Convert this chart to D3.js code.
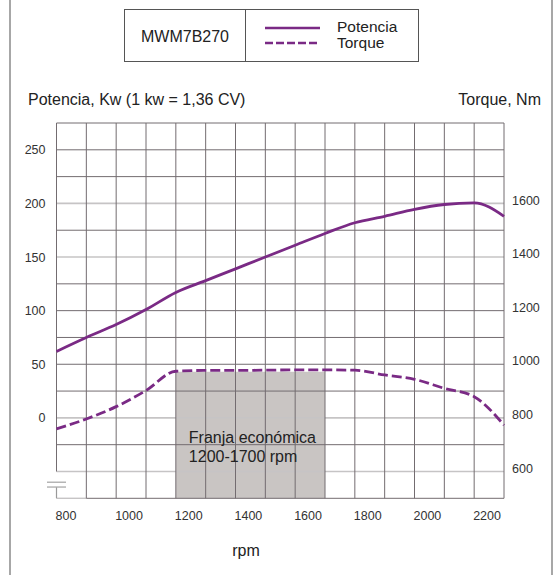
<!DOCTYPE html>
<html>
<head>
<meta charset="utf-8">
<script src="https://cdn.jsdelivr.net/npm/d3@7/dist/d3.min.js"></script>
<style>
  html, body { margin: 0; padding: 0; background: #fff; }
  svg { display: block; font-family: "Liberation Sans", Arial, sans-serif; }
</style>
</head>
<body>
<svg id="chart" width="559" height="575"></svg>
<script>
// ---- data ----
const rpm = [800, 900, 1000, 1100, 1200, 1300, 1400, 1500, 1600, 1700, 1800, 1900, 2000, 2100, 2200, 2300];
const potenciaKw = [62, 75, 87, 101, 117, 128, 139, 150, 161, 172, 182, 188, 194.5, 199, 200.5, 188];
const torqueNm = [759, 796, 842, 902, 974, 977, 977, 978, 979, 979, 978, 960, 944, 910, 879, 773];
const xTicks = [800, 1000, 1200, 1400, 1600, 1800, 2000, 2200];
const leftTicks = [0, 50, 100, 150, 200, 250];
const rightTicks = [600, 800, 1000, 1200, 1400, 1600];
const lightTorqueLines = [600, 800, 1400, 1600];
const bandRpm = [1200, 1700];
const bandTopNm = 972;
const modelName = "MWM7B270";
const seriesNames = ["Potencia", "Torque"];
const bandText = ["Franja económica", "1200-1700 rpm"];

// ---- layout ----
const svg = d3.select("#chart");
const purple = "#7a2a85";
const gridDark = "#736c70";
const gridLight = "#c6c4c5";
const L = 56.5, R = 504, T = 123, B = 498.3;

const x = d3.scaleLinear().domain([800, 2300]).range([L, R]);
const yP = d3.scaleLinear().domain([-75, 275]).range([B, T]);
const yT = d3.scaleLinear().domain([500, 1900]).range([B, T]);

// outer frame sides
svg.append("line").attr("x1", 10).attr("x2", 10).attr("y1", 0).attr("y2", 575)
  .attr("stroke", "#8a8a8a").attr("stroke-width", 1.5);
svg.append("line").attr("x1", 552).attr("x2", 552).attr("y1", 0).attr("y2", 575)
  .attr("stroke", "#8a8a8a").attr("stroke-width", 1.5);

// legend box
const lg = svg.append("g");
lg.append("rect").attr("x", 124.5).attr("y", 9.5).attr("width", 294).attr("height", 52)
  .attr("fill", "#fff").attr("stroke", "#555").attr("stroke-width", 1);
lg.append("line").attr("x1", 245.5).attr("x2", 245.5).attr("y1", 9.5).attr("y2", 61.5)
  .attr("stroke", "#555");
lg.append("text").attr("x", 185).attr("y", 42).attr("text-anchor", "middle")
  .attr("font-size", 16).attr("fill", "#222").text(modelName);
lg.append("line").attr("x1", 265).attr("x2", 320).attr("y1", 28).attr("y2", 28)
  .attr("stroke", purple).attr("stroke-width", 2.5);
lg.append("line").attr("x1", 265).attr("x2", 320).attr("y1", 43).attr("y2", 43)
  .attr("stroke", purple).attr("stroke-width", 2.5).attr("stroke-dasharray", "8,3");
lg.append("text").attr("x", 337).attr("y", 32).attr("font-size", 15.5).attr("fill", "#222").text(seriesNames[0]);
lg.append("text").attr("x", 337).attr("y", 47.5).attr("font-size", 15.5).attr("fill", "#222").text(seriesNames[1]);

// axis titles
svg.append("text").attr("x", 28).attr("y", 105).attr("font-size", 16).attr("fill", "#222")
  .text("Potencia, Kw (1 kw = 1,36 CV)");
svg.append("text").attr("x", 541).attr("y", 105).attr("text-anchor", "end").attr("font-size", 16).attr("fill", "#222")
  .text("Torque, Nm");

// economic band
svg.append("rect")
  .attr("x", x(bandRpm[0])).attr("y", yT(bandTopNm))
  .attr("width", x(bandRpm[1]) - x(bandRpm[0])).attr("height", B - yT(bandTopNm))
  .attr("fill", "#c9c5c3");

// grid: horizontal lines every 25 kW
const hVals = d3.range(-75, 276, 25);
const lightKw = lightTorqueLines.map(t => yP.invert(yT(t)));
const isLight = d => lightKw.some(k => Math.abs(k - d) < 0.5);
svg.append("g").selectAll("line").data(hVals.filter(v => v !== -75)).join("line")
  .attr("x1", L).attr("x2", R)
  .attr("y1", d => yP(d)).attr("y2", d => yP(d))
  .attr("stroke", d => isLight(d) ? gridLight : gridDark)
  .attr("stroke-width", d => isLight(d) ? 1.6 : 1);
// bottom line
svg.append("line").attr("x1", L).attr("x2", x(900)).attr("y1", B).attr("y2", B)
  .attr("stroke", gridLight).attr("stroke-width", 1.4);
svg.append("line").attr("x1", x(900)).attr("x2", R).attr("y1", B).attr("y2", B)
  .attr("stroke", gridDark).attr("stroke-width", 1);

// grid: vertical lines every 100 rpm
const vVals = d3.range(900, 2301, 100);
svg.append("g").selectAll("line").data(vVals).join("line")
  .attr("x1", d => x(d)).attr("x2", d => x(d)).attr("y1", T).attr("y2", B)
  .attr("stroke", gridDark).attr("stroke-width", 1);
// left edge with axis break
svg.append("line").attr("x1", L).attr("x2", L).attr("y1", T).attr("y2", yP(-50))
  .attr("stroke", gridDark).attr("stroke-width", 1);
svg.append("line").attr("x1", L).attr("x2", L).attr("y1", yP(-64.5)).attr("y2", B)
  .attr("stroke", "#999").attr("stroke-width", 1.2);
[-60, -64.5].forEach(v => {
  svg.append("line").attr("x1", L - 9.5).attr("x2", L + 9.5).attr("y1", yP(v)).attr("y2", yP(v))
    .attr("stroke", "#aaa").attr("stroke-width", 1.3);
});

// axes (labels only)
const axisX = svg.append("g").attr("transform", `translate(0,${B})`)
  .call(d3.axisBottom(x).tickValues(xTicks).tickSize(0).tickPadding(13).tickFormat(d3.format("d")));
axisX.select(".domain").remove();
axisX.selectAll("text").attr("text-anchor", "start").attr("dx", -1.5)
  .attr("font-size", 12.5).attr("fill", "#333").attr("font-family", "Liberation Sans, Arial, sans-serif");

const axisL = svg.append("g").attr("transform", `translate(${L},0)`)
  .call(d3.axisLeft(yP).tickValues(leftTicks).tickSize(0).tickPadding(11).tickFormat(d3.format("d")));
axisL.select(".domain").remove();
axisL.selectAll("text").attr("font-size", 12.5).attr("fill", "#333")
  .attr("font-family", "Liberation Sans, Arial, sans-serif");

const axisR = svg.append("g").attr("transform", `translate(${R},0)`)
  .call(d3.axisRight(yT).tickValues(rightTicks).tickSize(0).tickPadding(8).tickFormat(d3.format("d")));
axisR.select(".domain").remove();
axisR.selectAll("text").attr("font-size", 12.5).attr("fill", "#333").attr("dy", "0.05em")
  .attr("font-family", "Liberation Sans, Arial, sans-serif");

svg.append("text").attr("x", 246).attr("y", 556).attr("text-anchor", "middle")
  .attr("font-size", 16).attr("fill", "#222").text("rpm");

// band text
const bt = svg.append("text").attr("font-size", 16).attr("fill", "#222");
bandText.forEach((s, i) => {
  bt.append("tspan").attr("x", x(bandRpm[0]) + 13).attr("y", 443 + i * 19).text(s);
});

// curves
const pts = rpm.map((r, i) => ({ r, p: potenciaKw[i], t: torqueNm[i] }));
svg.append("path").datum(pts)
  .attr("d", d3.line().x(d => x(d.r)).y(d => yP(d.p)).curve(d3.curveMonotoneX))
  .attr("fill", "none").attr("stroke", purple).attr("stroke-width", 2.8);
svg.append("path").datum(pts)
  .attr("d", d3.line().x(d => x(d.r)).y(d => yT(d.t)).curve(d3.curveMonotoneX))
  .attr("fill", "none").attr("stroke", purple).attr("stroke-width", 2.8)
  .attr("stroke-dasharray", "10,4");
</script>
</body>
</html>
